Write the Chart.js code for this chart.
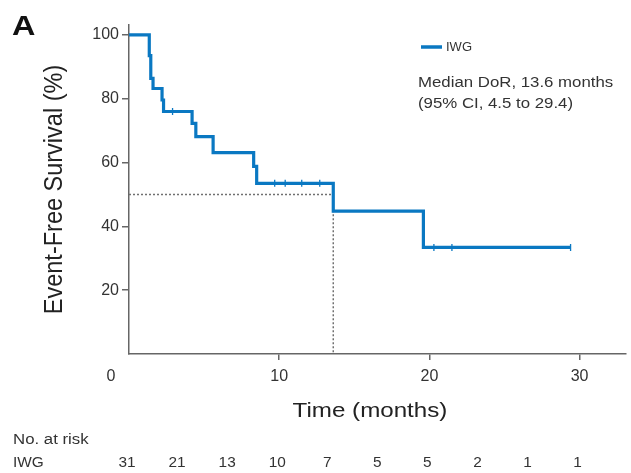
<!DOCTYPE html>
<html>
<head>
<meta charset="utf-8">
<script src="https://cdn.jsdelivr.net/npm/chart.js@4.4.1/dist/chart.umd.min.js"></script>
<style>
html,body{margin:0;padding:0;background:#fff;}
#wrap{width:631px;height:473px;position:relative;}
</style>
</head>
<body>
<div id="wrap"><canvas id="c" width="631" height="473"></canvas></div>
<script>
// Kaplan-Meier step points (time in months, survival %)
const kmTimes    = [0, 1.35, 1.45, 1.6, 2.2, 2.3, 4.2, 4.45, 5.6, 8.3, 8.5, 13.6, 19.6, 29.4];
const kmSurvival = [100, 93.5, 86.4, 83.2, 79.6, 76.0, 72.3, 68.1, 63.1, 58.8, 53.5, 44.8, 33.4, 33.4];
// Censored observations
const censorTimes    = [2.9, 9.7, 10.4, 11.5, 12.7, 20.3, 21.5, 29.4];
const censorSurvival = [76.0, 53.5, 53.5, 53.5, 53.5, 33.4, 33.4, 33.4];
// Median line
const medianTime = 13.6;
const medianSurv = 50;
// Axis ticks
const xTickValues = [0, 10, 20, 30];
const yTickValues = [20, 40, 60, 80, 100];
// Number at risk table
const riskTimes  = [0, 3.33, 6.67, 10, 13.33, 16.67, 20, 23.33, 26.67, 30];
const riskCounts = [31, 21, 13, 10, 7, 5, 5, 2, 1, 1];
const seriesName = 'IWG';
const medianText = ['Median DoR, 13.6 months', '(95% CI, 4.5 to 29.4)'];

const BLUE = '#0a78c2';
const TXT = '#333333';
const FONT = "'Liberation Sans', Arial, sans-serif";

const kmData = kmTimes.map((t, i) => ({x: t, y: kmSurvival[i]}));
const censorData = censorTimes.map((t, i) => ({x: t, y: censorSurvival[i]}));
const medianData = [{x: 0, y: medianSurv}, {x: medianTime, y: medianSurv}, {x: medianTime, y: 0}];

function wideText(ctx, text, x, y, sx, align) {
  ctx.save();
  ctx.translate(x, y);
  ctx.scale(sx, 1);
  ctx.textAlign = align;
  ctx.fillText(text, 0, 0);
  ctx.restore();
}

const textPlugin = {
  id: 'textPlugin',
  afterDraw(chart) {
    const ctx = chart.ctx;
    const xs = chart.scales.x;
    const ys = chart.scales.y;
    ctx.save();
    ctx.fillStyle = '#111';
    ctx.font = "bold 27px " + FONT;
    ctx.textBaseline = 'alphabetic';
    wideText(ctx, 'A', 12, 35, 1.2, 'left');

    ctx.textBaseline = 'middle';
    // x-axis "0" label (offset left of axis)
    ctx.fillStyle = TXT;
    ctx.font = "16px " + FONT;
    wideText(ctx, String(xTickValues[0]), xs.getPixelForValue(xTickValues[0]) - 18, 377, 1.0, 'center');

    // axis titles
    ctx.fillStyle = '#222';
    ctx.font = "21px " + FONT;
    wideText(ctx, 'Time (months)', 370, 411, 1.15, 'center');
    ctx.save();
    ctx.translate(55, (ys.top + ys.bottom) / 2);
    ctx.rotate(-Math.PI / 2);
    ctx.scale(1, 1.1);
    ctx.font = "23.5px " + FONT;
    ctx.textAlign = 'center';
    ctx.fillText('Event-Free Survival (%)', 0, 0);
    ctx.restore();

    // legend
    ctx.strokeStyle = BLUE;
    ctx.lineWidth = 3.5;
    ctx.beginPath();
    ctx.moveTo(421, 47);
    ctx.lineTo(442, 47);
    ctx.stroke();
    ctx.fillStyle = TXT;
    ctx.font = "13px " + FONT;
    wideText(ctx, seriesName, 446, 47, 1.0, 'left');
    ctx.font = "14px " + FONT;
    wideText(ctx, medianText[0], 418, 83, 1.2, 'left');
    wideText(ctx, medianText[1], 418, 104, 1.2, 'left');

    // risk table
    ctx.font = "14px " + FONT;
    wideText(ctx, 'No. at risk', 13, 440, 1.2, 'left');
    wideText(ctx, seriesName, 13, 463, 1.1, 'left');
    riskTimes.forEach((t, i) => {
      wideText(ctx, String(riskCounts[i]), xs.getPixelForValue(t) - 2, 463, 1.1, 'center');
    });
    ctx.restore();
  }
};

new Chart(document.getElementById('c'), {
  type: 'line',
  data: {
    datasets: [
      {
        label: 'median',
        data: medianData,
        borderColor: '#707070',
        borderWidth: 1.5,
        borderDash: [2, 2],
        pointRadius: 0,
        fill: false,
        order: 3
      },
      {
        label: seriesName,
        data: kmData,
        stepped: 'before',
        borderColor: BLUE,
        borderWidth: 3.2,
        pointRadius: 0,
        fill: false,
        order: 2
      },
      {
        label: 'censored',
        data: censorData,
        showLine: false,
        pointStyle: 'line',
        rotation: 90,
        pointRadius: 3.5,
        pointBorderWidth: 1.3,
        pointBorderColor: BLUE,
        pointBackgroundColor: BLUE,
        order: 1
      }
    ]
  },
  options: {
    responsive: false,
    animation: false,
    events: [],
    layout: {padding: {top: 25, right: 0, left: 0, bottom: 0}},
    plugins: {legend: {display: false}, tooltip: {enabled: false}},
    scales: {
      x: {
        type: 'linear',
        min: 0,
        max: 33.07,
        afterBuildTicks(s) { s.ticks = xTickValues.filter(v => v > 0).map(v => ({value: v})); },
        afterFit(s) { s.height = 119; s.paddingRight = 0; s.paddingLeft = 0; },
        grid: {drawOnChartArea: false, drawTicks: true, tickLength: 6, color: '#666', lineWidth: 1.5},
        border: {display: true, color: '#666', width: 1.5},
        ticks: {color: TXT, font: {family: FONT, size: 16}, padding: 7, maxRotation: 0}
      },
      y: {
        type: 'linear',
        min: 0,
        max: 103.1,
        afterBuildTicks(s) { s.ticks = yTickValues.map(v => ({value: v})); },
        afterFit(s) { s.width = 129; s.paddingTop = 0; s.paddingBottom = 0; },
        grid: {drawOnChartArea: false, drawTicks: true, tickLength: 7, color: '#666', lineWidth: 1.5},
        border: {display: true, color: '#666', width: 1.5},
        ticks: {color: TXT, font: {family: FONT, size: 16}, padding: 3}
      }
    }
  },
  plugins: [textPlugin]
});
</script>
</body>
</html>
